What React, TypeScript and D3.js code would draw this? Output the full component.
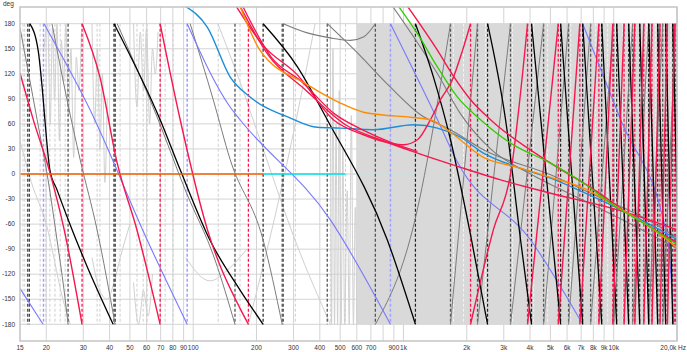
import React from "react";
import * as d3 from "d3";

type P = [number, number];
type Seg = P[];

const W = 687, H = 352;
const L = 20, R = 677, T = 7, B = 341;

const FREQ_GRID = [20, 30, 40, 50, 60, 70, 80, 90, 100, 200, 300, 400, 500, 600, 700, 800, 900, 1000, 2000, 3000, 4000, 5000, 6000, 7000, 8000, 9000, 10000, 20000];
const X_LABEL_FREQS = [15, 20, 30, 40, 50, 60, 70, 80, 90, 100, 200, 300, 400, 500, 600, 700, 900, 1000, 2000, 3000, 4000, 5000, 6000, 7000, 8000, 9000, 10000];
const X_LABEL_TEXTS = ["15", "20", "30", "40", "50", "60", "70", "80", "90", "100", "200", "300", "400", "500", "600", "700", "900", "1k", "2k", "3k", "4k", "5k", "6k", "7k", "8k", "9k", "10k"];
const LAST_LABEL = "20,0k Hz";
const DEG_TICKS = [180, 150, 120, 90, 60, 30, 0, -30, -60, -90, -120, -150, -180];

const BAND_START = 600;

// series
const ORANGE_FLAT: Seg = [[15, 0], [215, 0]];
const CYAN: Seg = [[215, 0], [530, 0]];
const CYAN_DOTTED: Seg = [[530, 0], [1100, 0]];
const ORANGE: Seg = [[167, 201], [208, 148], [349, 107], [501, 85], [645, 74], [777, 71], [1079, 68], [1344, 65], [1674, 50], [2400, 20], [3489, 8], [5010, -4], [7200, -17], [10450, -40], [15000, -64], [20170, -89]];
const BLUE: Seg = [[91.6, 201], [116.6, 176], [150, 116], [187, 92], [290, 67], [389, 56], [501, 55], [720, 53], [1116, 59], [1452, 55], [1868, 44], [2400, 25], [3489, 8], [5010, -5], [7200, -22], [10450, -41], [15000, -61], [20170, -79]];
const GREEN: Seg = [[946, 201], [1166, 168], [1452, 128], [1807, 92], [2325, 65], [3230, 37], [5010, 13], [7200, -11], [9680, -35], [15000, -64], [20170, -85]];
const RED_A: Seg = [[160, 201], [215, 154], [312, 119], [464, 65], [645, 47], [867, 37], [1000, 35], [1166, 41], [1344, 65], [1500, 89], [1710, 113], [1909, 148], [2085, 180]];
const RED_A2: Seg = [[2085, -180], [2682, -66], [3230, 0], [3893, 180]];
const RED_B: Seg = [[167, 201], [228, 142], [341, 101], [530, 59], [777, 41], [1166, 25], [1868, 8], [2896, -7], [5010, -23], [10450, -43], [20170, -67]];
const RED_C: Seg = [[172, 201], [235, 140], [330, 110], [470, 72], [650, 52], [870, 38], [1166, 27]];
const RED_D: Seg = [[1044, 201], [1452, 148], [1710, 119], [2085, 89], [2596, 65], [5010, 13], [7767, -16], [12050, -49], [20170, -83]];
const RED_LF: Seg[] = [
  [[15, 121], [17.3, 66], [20.8, 2], [24.3, -66], [29.6, -180]],
  [[29.6, 180], [36, 116], [43.5, 13], [54, -67], [69.6, -180]],
  [[69.6, 180], [86.7, 65], [116.6, -66], [167, -161], [183, -180]],
];
const RED_HF: P[] = [[3893, 5450], [5450, 6900], [6900, 8500], [8500, 9900], [9900, 11200], [11200, 12600], [12600, 13900], [13900, 15200], [15200, 16600], [16600, 18000], [18000, 19500]];
const BLACK_LF: Seg[] = [
  [[16.7, 180], [18.3, 148], [19.3, 92], [19.7, 65], [20.8, 5], [22.5, -19], [26, -61], [30.6, -105], [41.6, -180]],
  [[42, 180], [69.6, 65], [86.7, 5], [120, -79], [167, -139], [215, -180]],
  [[215, 180], [312, 129], [434, 65], [838, -79], [1140, -180]],
  [[1140, 180], [1389, 116], [1674, 41], [2085, -73], [2512, -180]],
  [[2512, 180], [3059, 65], [3606, -79], [4066, -180]],
];
const BLACK_HF: P[] = [[4066, 5590], [5590, 7118], [7118, 8770], [8770, 10330], [10330, 11780], [11780, 13300], [13300, 14670], [14670, 16190], [16190, 17670], [17670, 19100], [19100, 20700]];
const GRAY_A: Seg = [[887, 201], [1140, 161], [1452, 120], [1868, 72], [2596, 30], [4025, 0], [6960, -30], [12050, -60], [20170, -90]];
const GRAY_B: Seg = [[434, 180], [604, 145], [867, 104], [1205, 71], [1674, 53], [2400, 29], [5010, -1], [7767, -23], [15000, -57], [20170, -77]];
const GRAY_ARC: Seg = [[268, 180], [349, 169], [449, 163], [559, 160], [645, 164], [735, 180]];
const GRAY_LF: Seg[] = [
  [[15, 175], [18.1, 65], [20.4, -7], [22.5, -79], [24.3, -139], [25.4, -180]],
  [[21.3, 180], [25.1, 89], [29, 17], [34.9, -67], [42.5, -180]],
  [[43.5, 180], [67.4, 68], [91.6, -19], [127, -103], [158, -180]],
  [[96.7, 180], [124.5, 89], [150, 17], [215, -79], [265, -180]],
];
const GRAY_HF: Seg[] = [
  [[735, -180], [1104, -67], [1674, 180]],
  [[1674, -180], [2250, 180]], [[2250, -180], [3230, 180]], [[3230, -180], [4640, 180]],
  [[4640, -180], [6100, 180]], [[6100, -180], [7767, 180]], [[7767, -180], [10000, 180]],
  [[10000, -180], [12300, 180]], [[12300, -180], [14670, 180]], [[14670, -180], [17100, 180]],
  [[17100, -180], [19730, 180]],
];
const LAV: Seg[] = [
  [[15, -137], [19.3, -180]],
  [[19.5, 180], [32.3, 77], [60.4, -79], [93.6, -180]],
  [[93.6, 180], [150, 80], [167, 65], [449, -55], [867, -180]],
  [[867, 180], [1452, 65], [1800, 15], [4025, -79], [7118, -180]],
  [[7118, 180], [10790, 65], [18080, -79], [19300, -180]],
];
const LIGHT: Seg[] = [
  [[19.5, 150], [20.3, 180], [20.9, 60], [21.4, 175], [21.9, 90], [22.5, 180], [23.1, 40], [23.6, 160], [24.2, 110], [24.8, 180], [25.5, 70], [26.2, 150], [27, 20], [27.8, 140], [28.6, 100], [29.4, 170]],
  [[33, 180], [34, 60], [35, 150], [36, 30], [37, 120], [38, -10], [39, 90]],
  [[52, 180], [54, 80], [56, 170], [58, 100], [60, 175], [62, 60], [64, 150], [66, 120], [68, 170]],
  [[33, -100], [36, -140], [39, -150], [42, -130], [45, -100], [50, -60]],
  [[52, -130], [55, -180], [58, -140], [61, -170], [64, -120]],
  [[92, -100], [120, -128], [150, -112], [180, -90]],
  [[15, 40], [17, -10], [20, -60], [24, -150], [26, -180]],
  [[131, 180], [167, 110], [215, 30], [306, -80], [449, -180]],
  [[183, -180], [240, -60], [306, 60], [380, 180]],
];
const LIGHT_SPIKES: Seg = [[449, 180], [455, -180], [462, 150], [470, -180], [478, 60], [486, -180], [495, 100], [505, -180], [515, 30], [525, -180], [540, -20], [552, -180], [565, 70], [578, -180], [590, -40], [600, -180]];

const RED_DASH = [29.6, 69.6, 183, 2085, 3893, 5450, 6900, 8500, 9900, 11200, 12600, 13900, 15200, 16600, 18000, 19500];
const BLACK_DASH = [16.6, 42, 215, 1140, 2512, 4066, 5590, 7118, 8770, 10330, 11780, 13300, 14670, 16190, 17670, 19100];
const LAV_DASH = [19.4, 93.6, 867, 7118];
const GRAY_DASH = [16.3, 25.4, 42.6, 158, 265, 268, 434, 735, 1674, 2250, 3230, 4640, 6100, 7767, 10000, 12300, 14670, 17100, 19730];
const LIGHT_DASH = [15.5, 15.8, 18.7, 19.9, 20.8, 22, 23.3, 24.6, 34.9, 36, 44.9, 54, 57.8, 60.4, 73.5, 80.3, 131.5, 167, 306, 449, 530];
const BAND_DASH = [1729, 1930, 2457, 3303, 4160, 4848, 5470, 6240, 7200, 8205, 9360, 10220, 11030, 12050, 13440, 14360, 15840, 16740, 18680];

const C_RED = "#f5174d";
const C_BLACK = "#000000";
const C_GRAY = "#7c7c7c";
const C_DGRAY = "#555555";
const C_LIGHT = "#d0d0d0";
const C_LAV = "#7878ff";
const C_BLUE = "#1b8fd6";
const C_ORANGE = "#ff8c00";
const C_ORANGE_FLAT = "#f06000";
const C_CYAN = "#00e0e8";
const C_GREEN = "#33cc00";
const C_BAND = "#d9d9d9";
const C_GRID = "#d4d4d4";

const x = d3.scaleLog().domain([15, 20000]).range([L, R]);
const y = d3.scaleLinear().domain([-200, 200]).range([B, T]);
const line = d3.line<P>().x(d => x(d[0])).y(d => y(d[1])).curve(d3.curveMonotoneX);

const FONT = "'Liberation Sans', Arial, sans-serif";

export default function App() {
  const path = (s: Seg, stroke: string, w = 1.2, key?: string | number, dash?: string) => (
    <path key={key} d={line(s) || ""} fill="none" stroke={stroke} strokeWidth={w} strokeDasharray={dash} />
  );
  const vdash = (f: number, stroke: string, w: number, key: string, dash = "3 2") => (
    <line key={key} x1={x(f)} x2={x(f)} y1={y(180)} y2={y(-180)} stroke={stroke} strokeWidth={w} strokeDasharray={dash} />
  );
  return (
    <svg width={W} height={H} style={{ position: "absolute", left: 0, top: 0, background: "#fff" }}>
      <defs>
        <clipPath id="plot"><rect x={L} y={T} width={R - L} height={B - T} /></clipPath>
      </defs>
      <rect x={0} y={0} width={W} height={H} fill="#fff" />
      {/* grid */}
      {FREQ_GRID.map((f, i) => <line key={"gx" + i} x1={x(f)} x2={x(f)} y1={T} y2={B} stroke={C_GRID} strokeWidth={1} />)}
      {DEG_TICKS.map((d, i) => <line key={"gy" + i} x1={L} x2={R} y1={y(d)} y2={y(d)} stroke={C_GRID} strokeWidth={1} />)}
      <g clipPath="url(#plot)">
        <rect x={x(BAND_START)} y={y(180)} width={R - x(BAND_START)} height={y(-180) - y(180)} fill={C_BAND} />
        {path(LIGHT_SPIKES, C_LIGHT, 1, "sp")}
        {LIGHT.map((s, i) => path(s, C_LIGHT, 1, "l" + i))}
        {LIGHT_DASH.map((f, i) => vdash(f, "#cfcfcf", 1, "ld" + i))}
        {BAND_DASH.map((f, i) => vdash(f, "#f4f4f4", 1, "bd" + i))}
        {GRAY_DASH.map((f, i) => vdash(f, C_DGRAY, 1.3, "gd" + i))}
        {LAV_DASH.map((f, i) => vdash(f, "#a0a0ff", 1.5, "lvd" + i))}
        {BLACK_DASH.map((f, i) => vdash(f, "#222", 1.2, "bkd" + i))}
        {RED_DASH.map((f, i) => vdash(f, C_RED, 1.3, "rd" + i))}
        {GRAY_LF.map((s, i) => path(s, C_GRAY, 1, "glf" + i))}
        {GRAY_HF.map((s, i) => path(s, C_GRAY, 1, "ghf" + i))}
        {path(GRAY_ARC, C_GRAY, 1.1, "garc")}
        {path(GRAY_A, C_GRAY, 1.1, "ga")}
        {path(GRAY_B, C_GRAY, 1.1, "gb")}
        {LAV.map((s, i) => path(s, C_LAV, 1.1, "lv" + i))}
        {BLACK_LF.map((s, i) => path(s, C_BLACK, 1.3, "bk" + i))}
        {BLACK_HF.map((p, i) => path([[p[0], 180], [p[1], -180]], C_BLACK, 1.3, "bkh" + i))}
        {RED_LF.map((s, i) => path(s, C_RED, 1.4, "rlf" + i))}
        {RED_HF.map((p, i) => path([[p[0], -180], [p[1], 180]], C_RED, 1.4, "rhf" + i))}
        {path(RED_A2, C_RED, 1.4, "ra2")}
        {path(ORANGE_FLAT, C_ORANGE_FLAT, 1.6, "of")}
        {path(CYAN, C_CYAN, 1.6, "cy")}
        {path(CYAN_DOTTED, "#a8f0f0", 1.4, "cyd", "2 6")}
        {path(BLUE, C_BLUE, 1.4, "bl")}
        {path(RED_C, C_RED, 1.3, "rc")}
        {path(RED_B, C_RED, 1.4, "rb")}
        {path(RED_A, C_RED, 1.4, "ra")}
        {path(RED_D, C_RED, 1.4, "rdd")}
        {path(ORANGE, C_ORANGE, 1.4, "or")}
        {path(GREEN, C_GREEN, 1.3, "gr")}
      </g>
      <rect x={L} y={T} width={R - L} height={B - T} fill="none" stroke="#c4c4c4" strokeWidth={1.5} />
      <text x={3} y={6} fontSize={6.5} fontFamily={FONT} fill="#333">deg</text>
      {DEG_TICKS.map((d, i) => (
        <text key={"yl" + i} x={15} y={y(d) + 2.2} fontSize={6.5} fontFamily={FONT} fill="#333" textAnchor="end">{d}</text>
      ))}
      {X_LABEL_FREQS.map((f, i) => (
        <text key={"xl" + i} x={x(f)} y={349.5} fontSize={6.5} fontFamily={FONT} fill="#333" textAnchor="middle">{X_LABEL_TEXTS[i]}</text>
      ))}
      <text x={686} y={349.5} fontSize={6.5} fontFamily={FONT} fill="#333" textAnchor="end">{LAST_LABEL}</text>
    </svg>
  );
}
